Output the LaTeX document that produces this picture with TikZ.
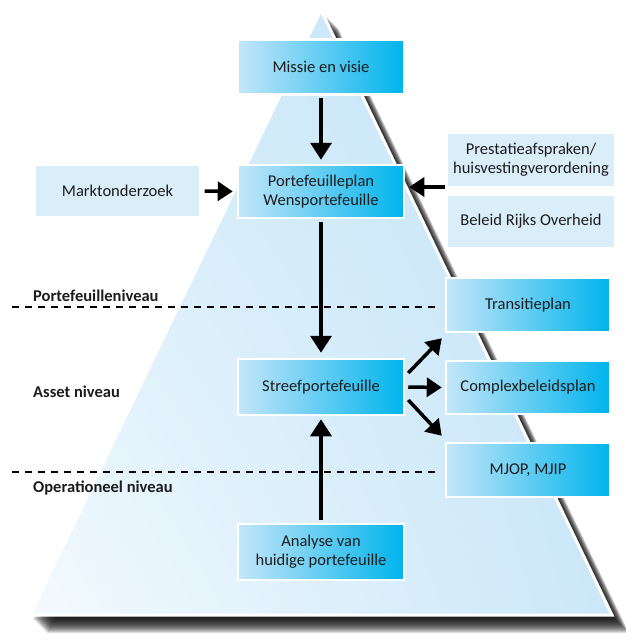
\documentclass[tikz,border=0pt]{standalone}
\usepackage{fontspec}
\setmainfont{Carlito}
\usetikzlibrary{arrows.meta,calc,shadings}
\definecolor{boxl}{HTML}{C4E6F9}
\definecolor{boxr}{HTML}{00B4EC}
\definecolor{pale}{HTML}{DAEEFA}
\definecolor{pyrLL}{HTML}{F3FAFE}
\definecolor{pyrUL}{HTML}{D6EDFA}
\definecolor{pyrUR}{HTML}{C2E3F7}
\definecolor{pyrLR}{HTML}{CBE7F8}
\definecolor{txt}{HTML}{1C1C1C}
\begin{document}
\begin{tikzpicture}[x=1pt,y=-1pt,
  bluebox/.style={draw=white, line width=2.5pt, left color=boxl, right color=boxr,
    minimum width=166pt, minimum height=53pt, inner sep=2pt, align=center,
    font=\fontsize{16.5}{19}\selectfont, text=txt},
  palebox/.style={draw=white, line width=1.2pt, fill=pale,
    minimum width=166pt, minimum height=52pt, inner sep=2pt, align=center,
    font=\fontsize{16.5}{19}\selectfont, text=txt},
  arr/.style={line width=3.5pt, -{Triangle[length=17pt,width=21pt]}},
  sarr/.style={line width=3.5pt, -{Triangle[length=15pt,width=19pt]}},
  lvl/.style={font=\bfseries\fontsize{16.5}{19}\selectfont, anchor=west, text=txt, inner sep=0pt},
  sep/.style={dash pattern=on 7pt off 6pt, line width=1.1pt}]
\useasboundingbox (0,0) rectangle (625,643);

% shadow of the pyramid
\foreach \i in {0,...,14} {
  \fill[black, opacity=0.12] (321+3+\i,10+4+\i) -- (612+3+\i,615+4+\i) -- (30+3+\i,615+4+\i) -- cycle;
}
% pyramid
\shade[lower left=pyrLL, upper left=pyrUL, upper right=pyrUR, lower right=pyrLR]
  (321,10) -- (612,615) -- (30,615) -- cycle;
\draw[white, line width=3pt, line join=miter] (321,10) -- (612,615) -- (30,615) -- cycle;

% level separators and labels
\draw[sep] (12,307) -- (440,307);
\draw[sep] (12,472) -- (440,472);
\node[lvl] (lv1) at (33,296) {Portefeuilleniveau};
\node[lvl] (lv2) at (33,392) {Asset niveau};
\node[lvl] (lv3) at (33,488) {Operationeel niveau};

% boxes
\node[bluebox, minimum width=166pt, minimum height=55pt] (missie) at (321,67) {Missie en visie};
\node[bluebox] (pplan) at (321,191.5) {Portefeuilleplan\\Wensportefeuille};
\node[palebox, minimum width=165pt] (markt) at (117.5,191) {Marktonderzoek};
\node[palebox, minimum width=168pt, minimum height=54pt] (prest) at (531,160) {Prestatieafspraken/\\huisvestingverordening};
\node[palebox, minimum width=168pt, minimum height=53pt] (beleid) at (531,221.5) {Beleid Rijks Overheid};
\node[bluebox, minimum width=164pt, minimum height=54pt] (trans) at (528,305) {Transitieplan};
\node[bluebox, minimum width=164pt, minimum height=53pt] (complex) at (528,387.5) {Complexbeleidsplan};
\node[bluebox, minimum width=164pt, minimum height=54pt] (mjop) at (528,470) {MJOP, MJIP};
\node[bluebox, minimum height=56pt] (streef) at (321,387) {Streefportefeuille};
\node[bluebox, minimum height=56pt] (analyse) at (321,552) {Analyse van\\huidige portefeuille};
\coordinate (rin) at (445,187);

% connectors
\draw[arr, shorten <=2pt, shorten >=4pt] (missie) -- (pplan);
\draw[sarr, shorten <=4pt, shorten >=4pt] (markt.east) -- (pplan.west);
\draw[sarr, shorten >=4pt] (rin) -- (rin -| pplan.east);
\draw[arr, shorten <=3pt, shorten >=5pt] (pplan) -- (streef);
\draw[arr, shorten <=3pt, shorten >=3pt] (analyse) -- (streef);
\draw[sarr] ($(streef.east)+(3,-14)$) -- ($(trans.south west)+(-3,5)$);
\draw[sarr, shorten <=3pt, shorten >=3pt] (streef.east) -- (complex.west);
\draw[sarr] ($(streef.east)+(3,13)$) -- ($(mjop.north west)+(-3,-6)$);
\end{tikzpicture}
\end{document}
